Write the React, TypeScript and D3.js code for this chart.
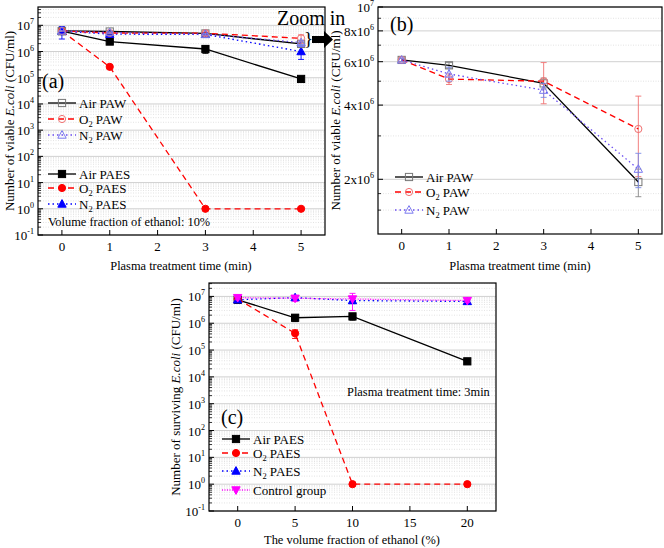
import * as d3 from 'd3';

// ---------- data ----------
const timeMin = [0, 1, 3, 5];
const ethanolPct = [0, 5, 10, 20];

// panel (a): PAW and PAES at 10% ethanol
const airPawA = [6.1e6, 5.8e6, 4.9e6, 1.95e6];
const o2PawA = [6.1e6, 5.1e6, 5.0e6, 3.2e6];
const n2PawA = [6.1e6, 5.35e6, 4.6e6, 2.2e6];
const airPaesA = [6.0e6, 2.4e6, 1.25e6, 9.0e4];
const o2PaesA = [6.0e6, 2.6e5, 1, 1];
const n2PaesA = [6.0e6, 4.6e6, 4.5e6, 1.0e6];

const airPawErr = [0.1e6, 0.15e6, 0.25e6, 0.25e6];
const o2PawErr = [0.1e6, 0.25e6, 0.95e6, 1.15e6];
const n2PawErr = [0.1e6, 0.35e6, 0.3e6, 0.35e6];
const airPaesErrA = [1.5e6, 0.5e6, 0.4e6, 2.0e4];
const o2PaesErrA = [1.0e6, 4.0e4, 0, 0];
const n2PaesErrA = [3.0e6, 0.8e6, 0.8e6, 5.0e5];

// panel (c): PAES after 3 min vs ethanol fraction
const airPaesC = [7.5e6, 1.6e6, 1.8e6, 3.8e4];
const o2PaesC = [8.0e6, 4.2e5, 1, 1];
const n2PaesC = [7.5e6, 9.0e6, 7.0e6, 6.5e6];
const controlC = [9.0e6, 8.5e6, 8.0e6, 7.0e6];

const airPaesErrC = [1.0e6, 0.45e6, 0.5e6, 8.0e3];
const o2PaesErrC = [1.0e6, 1.5e5, 0, 0];
const n2PaesErrC = [1.0e6, 1.5e6, 1.5e6, 0.6e6];
const controlErrC = [1.5e6, 2.0e6, 5.0e6, 1.0e6];

const xTicksTime = [0, 1, 2, 3, 4, 5];
const xTicksEthanol = [0, 5, 10, 15, 20];
const logDecades = [-1, 0, 1, 2, 3, 4, 5, 6, 7];
const zoomTicks = [2e6, 4e6, 6e6, 8e6, 1e7];
const zoomTickLabels = ['2x10|6', '4x10|6', '6x10|6', '8x10|6', '10|7'];
const zoomMinor = [1.5e6, 1.75e6, 3e6, 5e6, 7e6, 9e6];

const FONT = '"Liberation Serif", "Times New Roman", serif';
const TXT = 12.4;
const TICK = 13;

type Series = {
  label: string;
  x: number[];
  y: number[];
  err: number[];
  line: string;
  dash: string;
  marker: 'square' | 'circle' | 'tri' | 'triDown';
  fill: string;
  stroke: string;
  errColor: string;
};

const DASH = { solid: '', dashed: '6,4', dotted: '1.5,3', dense: '1,1.5' };

function Marker({ m, x, y, fill, stroke }: { m: Series['marker']; x: number; y: number; fill: string; stroke: string }) {
  const s = 3.6;
  if (m === 'square') return <rect x={x - s} y={y - s} width={2 * s} height={2 * s} fill={fill} stroke={stroke} strokeWidth={1} />;
  if (m === 'circle') return <circle cx={x} cy={y} r={s} fill={fill} stroke={stroke} strokeWidth={1} />;
  if (m === 'tri')
    return <path d={`M${x},${y - s - 0.8} L${x + s + 0.6},${y + s - 0.4} L${x - s - 0.6},${y + s - 0.4} Z`} fill={fill} stroke={stroke} strokeWidth={1} />;
  return <path d={`M${x},${y + s + 0.8} L${x + s + 0.6},${y - s + 0.4} L${x - s - 0.6},${y - s + 0.4} Z`} fill={fill} stroke={stroke} strokeWidth={1} />;
}

// "O_2 PAW" -> O with subscript 2
function SubText({ text, x, y, size }: { text: string; x: number; y: number; size: number }) {
  const m = text.match(/^(.*)_(\d)(.*)$/);
  if (!m) return <text x={x} y={y} fontSize={size} fontFamily={FONT}>{text}</text>;
  return (
    <text x={x} y={y} fontSize={size} fontFamily={FONT}>
      {m[1]}
      <tspan dy={3} fontSize={size * 0.65}>{m[2]}</tspan>
      <tspan dy={-3}>{m[3]}</tspan>
    </text>
  );
}

// "8x10|6" -> 8x10 with superscript 6
function SupText({ text, x, y, size }: { text: string; x: number; y: number; size: number }) {
  const [base, exp] = text.split('|');
  return (
    <text x={x} y={y} fontSize={size} fontFamily={FONT} textAnchor="end">
      {base}
      <tspan dy={-6} fontSize={size * 0.62}>{exp}</tspan>
    </text>
  );
}

type PanelProps = {
  left: number; right: number; top: number; bottom: number;
  xDomain: [number, number]; yDomain: [number, number];
  xTicks: number[];
  yTicks: number[]; yLabels: string[]; yMinor: number[];
  series: Series[];
  xTitle: string; xTitleX: number; xTitleY: number;
  yTitle: [string, string, string]; yTitleX: number;
  tag: string; tagX: number; tagY: number;
  legends: { x: number; y: number; s: Series }[];
};

function Panel(p: PanelProps) {
  const x = d3.scaleLinear().domain(p.xDomain).range([p.left, p.right]);
  const y = d3.scaleLog().domain(p.yDomain).range([p.bottom, p.top]);
  return (
    <g>
      {/* grid */}
      {p.yMinor.map((v, i) => (
        <line key={'gm' + i} x1={p.left} x2={p.right} y1={y(v)} y2={y(v)} stroke="#dcdcdc" strokeWidth={0.8} strokeDasharray="1,1.5" />
      ))}
      {p.yTicks.map((v, i) => (
        <line key={'gM' + i} x1={p.left} x2={p.right} y1={y(v)} y2={y(v)} stroke="#d0d0d0" strokeWidth={1} />
      ))}
      {/* ticks (inward) */}
      {p.yMinor.map((v, i) => (
        <line key={'tm' + i} x1={p.left} x2={p.left + 3} y1={y(v)} y2={y(v)} stroke="#000" strokeWidth={0.8} />
      ))}
      {p.yTicks.map((v, i) => (
        <line key={'tM' + i} x1={p.left} x2={p.left + 5} y1={y(v)} y2={y(v)} stroke="#000" strokeWidth={1} />
      ))}
      {p.xTicks.map((v, i) => (
        <line key={'tx' + i} x1={x(v)} x2={x(v)} y1={p.bottom} y2={p.bottom - 5} stroke="#000" strokeWidth={1} />
      ))}
      {/* tick labels */}
      {p.yTicks.map((v, i) => (
        <SupText key={'ly' + i} text={p.yLabels[i]} x={p.left - 4} y={y(v) + 5} size={TICK} />
      ))}
      {p.xTicks.map((v, i) => (
        <text key={'lx' + i} x={x(v)} y={p.bottom + 16} fontSize={TICK} fontFamily={FONT} textAnchor="middle">{v}</text>
      ))}
      {/* series */}
      {p.series.map((s, si) => {
        const pts = s.x.map((xv, i) => [x(xv), y(s.y[i])] as [number, number]);
        const path = d3.line()(pts) || '';
        return (
          <g key={'s' + si}>
            {s.x.map((xv, i) => {
              const e = s.err[i];
              if (!e) return null;
              const lo = Math.max(s.y[i] - e, p.yDomain[0]);
              const hi = s.y[i] + e;
              return (
                <g key={'e' + i} stroke={s.errColor} strokeWidth={0.9}>
                  <line x1={x(xv)} x2={x(xv)} y1={y(lo)} y2={y(hi)} />
                  <line x1={x(xv) - 3} x2={x(xv) + 3} y1={y(lo)} y2={y(lo)} />
                  <line x1={x(xv) - 3} x2={x(xv) + 3} y1={y(hi)} y2={y(hi)} />
                </g>
              );
            })}
            <path d={path} fill="none" stroke={s.line} strokeWidth={1.3} strokeDasharray={s.dash} />
            {pts.map((pt, i) => (
              <Marker key={'m' + i} m={s.marker} x={pt[0]} y={pt[1]} fill={s.fill} stroke={s.stroke} />
            ))}
          </g>
        );
      })}
      {/* frame */}
      <rect x={p.left} y={p.top} width={p.right - p.left} height={p.bottom - p.top} fill="none" stroke="#000" strokeWidth={1.2} />
      {/* legends */}
      {p.legends.map((l, i) => (
        <g key={'lg' + i}>
          <line x1={l.x} x2={l.x + 28} y1={l.y} y2={l.y} stroke={l.s.line} strokeWidth={1.3} strokeDasharray={l.s.dash} />
          <Marker m={l.s.marker} x={l.x + 14} y={l.y} fill={l.s.fill} stroke={l.s.stroke} />
          <SubText text={l.s.label} x={l.x + 31} y={l.y + 4.5} size={TXT + 0.6} />
        </g>
      ))}
      {/* titles */}
      <text x={p.xTitleX} y={p.xTitleY} fontSize={TXT} fontFamily={FONT} textAnchor="middle">{p.xTitle}</text>
      <text transform={`translate(${p.yTitleX},${(p.top + p.bottom) / 2}) rotate(-90)`} fontSize={TXT + 0.6} fontFamily={FONT} textAnchor="middle">
        {p.yTitle[0]}<tspan fontStyle="italic">{p.yTitle[1]}</tspan>{p.yTitle[2]}
      </text>
      <text x={p.tagX} y={p.tagY} fontSize={20} fontFamily={FONT}>{p.tag}</text>
    </g>
  );
}

function mk(label: string, xs: number[], ys: number[], err: number[], kind: string, filled: boolean, light = false): Series {
  const base: Record<string, { line: string; dash: string; marker: Series['marker']; col: string; lightCol: string; errLight: string }> = {
    air: { line: '#000', dash: DASH.solid, marker: 'square', col: '#000', lightCol: '#777', errLight: '#888' },
    o2: { line: '#ff0000', dash: DASH.dashed, marker: 'circle', col: '#ff0000', lightCol: '#f07070', errLight: '#f07070' },
    n2: { line: '#0000ff', dash: DASH.dotted, marker: 'tri', col: '#0000ff', lightCol: '#7a7af0', errLight: '#7a8ae8' },
    n2b: { line: '#6a4cf0', dash: DASH.dotted, marker: 'tri', col: '#0000ff', lightCol: '#7a7af0', errLight: '#7a8ae8' },
    ctrl: { line: '#ff00ff', dash: DASH.dense, marker: 'triDown', col: '#ff00ff', lightCol: '#ff00ff', errLight: '#ff00ff' },
  };
  const b = base[kind];
  const mc = light ? b.lightCol : b.col;
  return {
    label, x: xs, y: ys, err, line: b.line, dash: b.dash, marker: b.marker,
    fill: filled ? mc : 'none', stroke: mc, errColor: light ? b.errLight : mc,
  };
}

export default function App() {
  const decLabels = logDecades.map(d => `10|${d}`);
  const decTicks = logDecades.map(d => Math.pow(10, d));
  const minorA: number[] = [];
  for (let d = -1; d <= 7; d++) for (let k = 2; k <= 9; k++) minorA.push(k * Math.pow(10, d));
  const minorIn = (lo: number, hi: number) => minorA.filter(v => v > lo && v < hi);

  const airPawSA = mk('Air PAW', timeMin, airPawA, airPawErr, 'air', false, true);
  const o2PawSA = mk('O_2 PAW', timeMin, o2PawA, o2PawErr, 'o2', false, true);
  const n2PawSA = mk('N_2 PAW', timeMin, n2PawA, n2PawErr, 'n2b', false, true);
  const airPaesSA = mk('Air PAES', timeMin, airPaesA, airPaesErrA, 'air', true);
  const o2PaesSA = mk('O_2 PAES', timeMin, o2PaesA, o2PaesErrA, 'o2', true);
  const n2PaesSA = mk('N_2 PAES', timeMin, n2PaesA, n2PaesErrA, 'n2', true);

  const airC = mk('Air PAES', ethanolPct, airPaesC, airPaesErrC, 'air', true);
  const o2C = mk('O_2 PAES', ethanolPct, o2PaesC, o2PaesErrC, 'o2', true);
  const n2C = mk('N_2 PAES', ethanolPct, n2PaesC, n2PaesErrC, 'n2', true);
  const ctrlC = mk('Control group', ethanolPct, controlC, controlErrC, 'ctrl', true);

  const yTitleA: [string, string, string] = ['Number of viable ', 'E.coli', ' (CFU/ml)'];

  return (
    <svg width={664} height={548} style={{ position: 'absolute', left: 0, top: 0, background: '#fff' }} fontFamily={FONT}>
      <Panel
        left={38} right={325} top={7} bottom={235}
        xDomain={[-0.5, 5.5]} yDomain={[0.1, 5e7]}
        xTicks={xTicksTime} yTicks={decTicks} yLabels={decLabels} yMinor={minorIn(0.1, 5e7)}
        series={[airPaesSA, o2PaesSA, n2PaesSA, airPawSA, o2PawSA, n2PawSA]}
        xTitle="Plasma treatment time (min)" xTitleX={181} xTitleY={270}
        yTitle={yTitleA} yTitleX={14}
        tag="(a)" tagX={42} tagY={88}
        legends={[
          { x: 48, y: 103, s: airPawSA }, { x: 48, y: 119, s: o2PawSA }, { x: 48, y: 135, s: n2PawSA },
          { x: 48, y: 174, s: airPaesSA }, { x: 48, y: 188, s: o2PaesSA }, { x: 48, y: 204, s: n2PaesSA },
        ]}
      />
      <text x={48} y={226} fontSize={TXT} fontFamily={FONT}>Volume fraction of ethanol: 10%</text>

      <Panel
        left={378} right={662} top={7} bottom={234}
        xDomain={[-0.5, 5.5]} yDomain={[1.2e6, 1e7]}
        xTicks={xTicksTime} yTicks={zoomTicks} yLabels={zoomTickLabels} yMinor={zoomMinor}
        series={[airPawSA, o2PawSA, n2PawSA]}
        xTitle="Plasma treatment time (min)" xTitleX={520} xTitleY={270}
        yTitle={yTitleA} yTitleX={340}
        tag="(b)" tagX={390} tagY={31}
        legends={[{ x: 395, y: 177, s: airPawSA }, { x: 395, y: 192, s: o2PawSA }, { x: 395, y: 210, s: n2PawSA }]}
      />

      <Panel
        left={209} right={496} top={283} bottom={511}
        xDomain={[-2.5, 22.5]} yDomain={[0.1, Math.pow(10, 7.5)]}
        xTicks={xTicksEthanol} yTicks={decTicks} yLabels={decLabels} yMinor={minorIn(0.1, Math.pow(10, 7.5))}
        series={[airC, o2C, n2C, ctrlC]}
        xTitle="The volume fraction of ethanol (%)" xTitleX={352} xTitleY={544}
        yTitle={['Number of surviving ', 'E.coli', ' (CFU/ml)']} yTitleX={180}
        tag="(c)" tagX={221} tagY={424}
        legends={[
          { x: 222, y: 439, s: airC }, { x: 222, y: 453, s: o2C }, { x: 222, y: 471, s: n2C }, { x: 222, y: 490, s: ctrlC },
        ]}
      />
      <text x={347} y={396} fontSize={TXT} fontFamily={FONT}>Plasma treatment time: 3min</text>

      {/* zoom-in annotation */}
      <text x={277} y={25} fontSize={20} fontFamily={FONT}>Zoom in</text>
      <text x={304} y={45} fontSize={19} fontFamily={FONT}>{'}'}</text>
      <path d="M312,36 L324,36 L324,31 L333,39.5 L324,48 L324,43 L312,43 Z" fill="#000" />
    </svg>
  );
}
